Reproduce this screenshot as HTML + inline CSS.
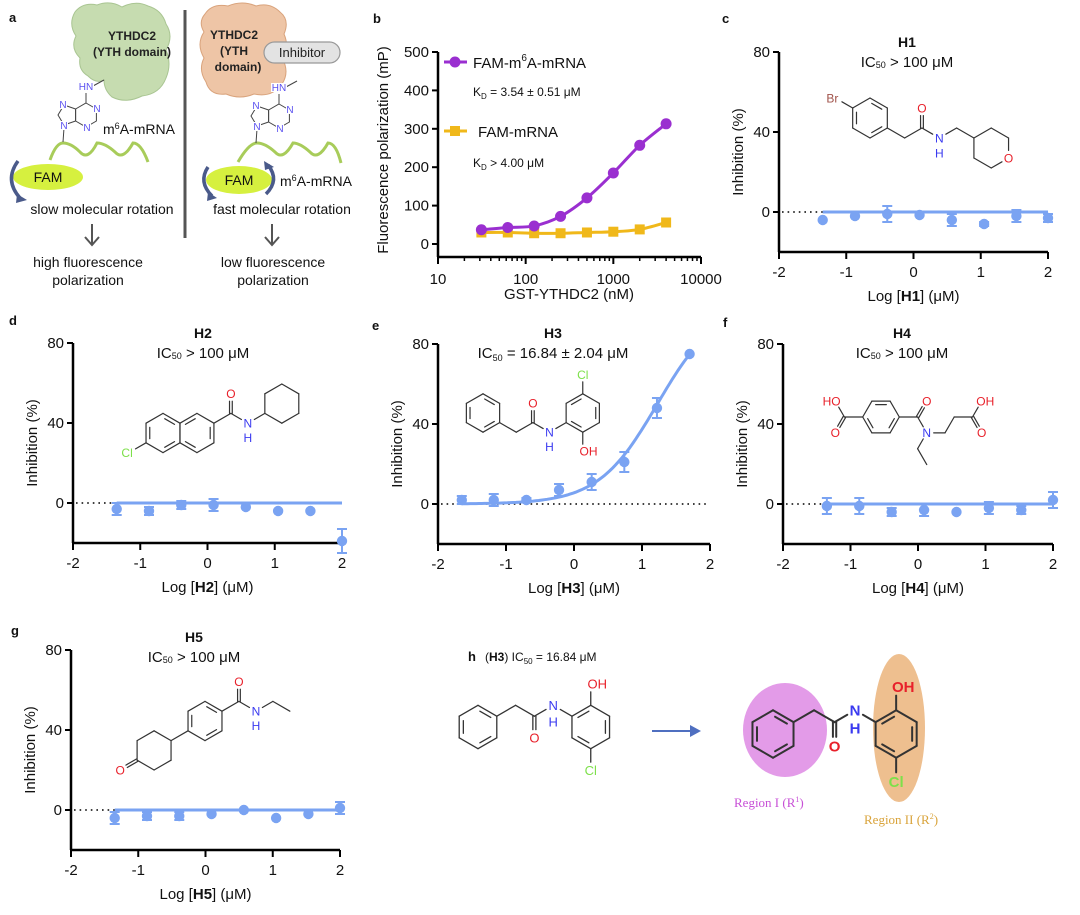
<!DOCTYPE html>
<html><head><meta charset="utf-8">
<style>
html,body{margin:0;padding:0;background:#fff;}
svg{display:block;font-family:"Liberation Sans",Arial,sans-serif;}
</style></head>
<body>
<svg id="fig" width="1080" height="915" viewBox="0 0 1080 915" xmlns="http://www.w3.org/2000/svg">
<!-- Panel letters -->
<g font-weight="bold" font-size="13" fill="#111">
<text x="9" y="22">a</text>
<text x="373" y="23">b</text>
<text x="722" y="23">c</text>
<text x="9" y="325">d</text>
<text x="372" y="330">e</text>
<text x="723" y="327">f</text>
<text x="11" y="635">g</text>
<text x="468" y="661">h</text>
</g>

<!-- Panel a schematic -->
<g id="panelA">
<path d="M75,12 Q83,2 97,5 Q110,0 122,7 Q136,0 148,6 Q162,10 166,24 Q174,36 166,50 Q172,64 166,78 Q160,94 142,96 Q126,104 112,97 Q104,90 104,80 Q96,84 88,76 Q78,70 80,58 Q70,48 76,36 Q68,24 75,12 Z" fill="#c6dcb0" stroke="#a9c592" stroke-width="1"/>
<text x="132" y="40" text-anchor="middle" font-size="12" font-weight="bold" fill="#222">YTHDC2</text>
<text x="132" y="56" text-anchor="middle" font-size="12" font-weight="bold" fill="#222">(YTH domain)</text>
<path d="M205,14 Q212,3 228,6 Q242,0 256,6 Q270,2 280,12 Q290,20 284,34 Q290,48 282,58 Q290,72 282,84 Q272,98 254,94 Q240,100 226,94 Q210,96 206,82 Q198,70 204,58 Q196,44 204,32 Q198,22 205,14 Z" fill="#eec5a6" stroke="#d9a37c" stroke-width="1"/>
<text x="234" y="39" text-anchor="middle" font-size="12" font-weight="bold" fill="#222">YTHDC2</text>
<text x="234" y="55" text-anchor="middle" font-size="12" font-weight="bold" fill="#222">(YTH</text>
<text x="238" y="71" text-anchor="middle" font-size="12" font-weight="bold" fill="#222">domain)</text>
<rect x="264" y="42" width="76" height="21" rx="10.5" fill="#e3e3e3" stroke="#999" stroke-width="1.2"/>
<text x="302" y="57" text-anchor="middle" font-size="13" fill="#222">Inhibitor</text>
<line x1="185" y1="10" x2="185" y2="238" stroke="#555" stroke-width="3"/>
<text x="103" y="134" font-size="14" fill="#111">m<tspan font-size="9" dy="-5">6</tspan><tspan dy="5">A-mRNA</tspan></text>
<text x="280" y="186" font-size="14" fill="#111">m<tspan font-size="9" dy="-5">6</tspan><tspan dy="5">A-mRNA</tspan></text>
<path d="M50,160 Q56,143 63,143 Q71,143 80,152 Q88,161 97,143 Q105,143 115,152 Q123,161 133,143 Q141,143 148,162" fill="none" stroke="#a8cc5a" stroke-width="3"/>
<path d="M238,162 Q249,143 257,143 Q265,143 275,152 Q283,161 293,143 Q300,143 310,152 Q318,161 328,143 Q336,143 341,163" fill="none" stroke="#a8cc5a" stroke-width="3"/>
<ellipse cx="48" cy="177" rx="35" ry="13" fill="#d6f03f"/>
<text x="48" y="182" text-anchor="middle" font-size="14" fill="#111">FAM</text>
<ellipse cx="239" cy="180" rx="33" ry="14" fill="#d6f03f"/>
<text x="239" y="185" text-anchor="middle" font-size="14" fill="#111">FAM</text>
<g fill="none" stroke="#4a5a8a" stroke-width="3.5">
<path d="M18,161 Q4,180 20,198"/>
<path d="M208,167 Q198,182 212,196"/>
<path d="M268,165 Q280,180 266,194"/>
</g>
<g fill="#4a5a8a">
<polygon points="17,194 27,200 16,203"/>
<polygon points="208,192 217,198 207,201"/>
<polygon points="264,161 274,167 265,170"/>
</g>
<text x="102" y="214" text-anchor="middle" font-size="14" fill="#111">slow molecular rotation</text>
<text x="282" y="214" text-anchor="middle" font-size="14" fill="#111">fast molecular rotation</text>
<g stroke="#555" stroke-width="2" fill="none">
<path d="M92,224 V245 M85,237 L92,245 L99,237"/>
<path d="M272,224 V245 M265,237 L272,245 L279,237"/>
</g>
<text x="88" y="267" text-anchor="middle" font-size="14" fill="#111">high fluorescence</text>
<text x="88" y="285" text-anchor="middle" font-size="14" fill="#111">polarization</text>
<text x="273" y="267" text-anchor="middle" font-size="14" fill="#111">low fluorescence</text>
<text x="273" y="285" text-anchor="middle" font-size="14" fill="#111">polarization</text>
</g>

<!-- Panel h static -->
<g>
<text x="485" y="661" font-size="12" fill="#111">(<tspan font-weight="bold">H3</tspan>) IC<tspan font-size="8" dy="3">50</tspan><tspan dy="-3"> = 16.84 μM</tspan></text>
<ellipse cx="785" cy="730" rx="42" ry="47" fill="#e39be8"/>
<ellipse cx="899" cy="728" rx="26" ry="74" fill="#eebf8f"/>
<line x1="652" y1="731" x2="694" y2="731" stroke="#4f6fc0" stroke-width="2"/>
<polygon points="690,725 701,731 690,737" fill="#4f6fc0"/>
<text x="734" y="807" font-size="13" fill="#c74fd6" font-family="Liberation Serif, serif">Region I (R<tspan font-size="8" dy="-5">1</tspan><tspan dy="5">)</tspan></text>
<text x="864" y="824" font-size="13" fill="#d9a33a" font-family="Liberation Serif, serif">Region II (R<tspan font-size="8" dy="-5">2</tspan><tspan dy="5">)</tspan></text>
</g>

<g id="dyn"></g>
</svg>

<script>
// ---------- Data: panel b ----------
const gstConc = [31.25, 62.5, 125, 250, 500, 1000, 2000, 4000];
const fpM6A = [37, 43, 47, 72, 120, 185, 257, 313];
const fpRNA = [30, 30, 28, 28, 30, 32, 38, 56];
const bYTicks = [0, 100, 200, 300, 400, 500];
const bXTicks = [10, 100, 1000, 10000];

// ---------- Data: inhibition panels ----------
const logConc = [-1.35, -0.87, -0.39, 0.09, 0.57, 1.05, 1.53, 2.0];
const logConcH3 = [-1.65, -1.18, -0.70, -0.22, 0.26, 0.74, 1.22, 1.70];
const h1Mean = [-4, -2, -1, -1.5, -4, -6, -2, -3];
const h1Err = [0, 0, 4, 0, 3, 1, 3, 2];
const h2Mean = [-3, -4, -1, -1, -2, -4, -4, -19];
const h2Err = [3, 2, 2, 3, 0, 0, 0, 6];
const h3Mean = [2, 2, 2, 7, 11, 21, 48, 75];
const h3Err = [2, 3, 1, 3, 4, 5, 5, 0];
const h4Mean = [-1, -1, -4, -3, -4, -2, -3, 2];
const h4Err = [4, 4, 2, 3, 0, 3, 2, 4];
const h5Mean = [-4, -3, -3, -2, 0, -4, -2, 1];
const h5Err = [3, 2, 2, 0, 0, 0, 0, 3];
const h3FitLogIC50 = [1.226];
const h3FitHill = [1.0];
const flatFitLevel = [0];
const inhYTicks = [80, 40, 0];
const inhXTicks = [-2, -1, 0, 1, 2];

const NS = 'http://www.w3.org/2000/svg';
const root = document.getElementById('dyn');
function mk(tag, attrs, parent, name) {
  const el = document.createElementNS(NS, tag);
  for (const k in attrs) el.setAttribute(k, attrs[k]);
  
  
  (parent || root).appendChild(el);
  return el;
}
function txt(x, y, s, attrs, parent, name) {
  const el = mk('text', Object.assign({x: x, y: y}, attrs), parent, name);
  el.textContent = s;
  return el;
}
function catmull(pts) {
  let d = 'M' + pts[0][0] + ',' + pts[0][1];
  for (let i = 0; i < pts.length - 1; i++) {
    const p0 = pts[Math.max(0, i - 1)], p1 = pts[i], p2 = pts[i + 1], p3 = pts[Math.min(pts.length - 1, i + 2)];
    const c1 = [p1[0] + (p2[0] - p0[0]) / 6, p1[1] + (p2[1] - p0[1]) / 6];
    const c2 = [p2[0] - (p3[0] - p1[0]) / 6, p2[1] - (p3[1] - p1[1]) / 6];
    d += ' C' + c1[0] + ',' + c1[1] + ' ' + c2[0] + ',' + c2[1] + ' ' + p2[0] + ',' + p2[1];
  }
  return d;
}

// ---------- Panel b ----------
(function () {
  const g = mk('g', {}, root, 'panel-b-chart');
  const axX = 438, axY = 257, y0 = 244, y500 = 52, xL = 438, xR = 701;
  const sx = v => xL + (Math.log10(v) - 1) / 3 * (xR - xL);
  const sy = v => y0 - v / 500 * (y0 - y500);
  mk('line', {x1: axX, y1: y500, x2: axX, y2: axY, stroke: '#000', 'stroke-width': 2.5}, g, 'b-y-axis');
  mk('line', {x1: axX, y1: axY, x2: xR, y2: axY, stroke: '#000', 'stroke-width': 2.5}, g, 'b-x-axis');
  bYTicks.forEach(t => {
    mk('line', {x1: axX - 6, y1: sy(t), x2: axX, y2: sy(t), stroke: '#000', 'stroke-width': 2}, g, 'b-y-tick');
    txt(axX - 9, sy(t) + 5, String(t), {'text-anchor': 'end', 'font-size': 15, fill: '#111'}, g, 'b-y-tick-label');
  });
  bXTicks.forEach(t => {
    mk('line', {x1: sx(t), y1: axY, x2: sx(t), y2: axY + 7, stroke: '#000', 'stroke-width': 2}, g, 'b-x-tick');
    txt(sx(t), axY + 27, String(t), {'text-anchor': 'middle', 'font-size': 15, fill: '#111'}, g, 'b-x-tick-label');
  });
  for (let dec = 10; dec < 10000; dec *= 10) for (let m = 2; m <= 9; m++) {
    mk('line', {x1: sx(dec * m), y1: axY, x2: sx(dec * m), y2: axY + 4, stroke: '#000', 'stroke-width': 1.5}, g, 'b-x-minor-tick');
  }
  const ty = mk('text', {x: 0, y: 0, transform: 'translate(388,150) rotate(-90)', 'text-anchor': 'middle', 'font-size': 15, fill: '#111'}, g, 'b-y-axis-title');
  ty.textContent = 'Fluorescence polarization (mP)';
  txt(569, 299, 'GST-YTHDC2 (nM)', {'text-anchor': 'middle', 'font-size': 15, fill: '#111'}, g, 'b-x-axis-title');
  // series
  const purple = '#9a2fd0', yellow = '#f0b81a';
  mk('path', {d: catmull(gstConc.map((c, i) => [sx(c), sy(fpRNA[i])])), fill: 'none', stroke: yellow, 'stroke-width': 3}, g, 'fam-mrna-fit-line');
  gstConc.forEach((c, i) => mk('rect', {x: sx(c) - 5, y: sy(fpRNA[i]) - 5, width: 10, height: 10, fill: yellow}, g, 'fam-mrna-point'));
  mk('path', {d: catmull(gstConc.map((c, i) => [sx(c), sy(fpM6A[i])])), fill: 'none', stroke: purple, 'stroke-width': 3}, g, 'fam-m6a-mrna-fit-line');
  gstConc.forEach((c, i) => mk('circle', {cx: sx(c), cy: sy(fpM6A[i]), r: 5.5, fill: purple}, g, 'fam-m6a-mrna-point'));
  // legend
  mk('line', {x1: 444, y1: 62, x2: 467, y2: 62, stroke: purple, 'stroke-width': 3}, g, 'legend-m6a-line');
  mk('circle', {cx: 455, cy: 62, r: 5.5, fill: purple}, g, 'legend-m6a-marker');
  const l1 = mk('text', {x: 473, y: 68, 'font-size': 15, fill: '#111'}, g, 'legend-m6a-label');
  l1.innerHTML = 'FAM-m<tspan font-size="10" dy="-7">6</tspan><tspan dy="7">A-mRNA</tspan>';
  const k1 = mk('text', {x: 473, y: 96, 'font-size': 12, fill: '#111'}, g, 'kd-m6a-label');
  k1.innerHTML = 'K<tspan font-size="8" dy="3">D</tspan><tspan dy="-3"> = 3.54 ± 0.51 μM</tspan>';
  mk('line', {x1: 444, y1: 131, x2: 467, y2: 131, stroke: yellow, 'stroke-width': 3}, g, 'legend-mrna-line');
  mk('rect', {x: 450, y: 126, width: 10, height: 10, fill: yellow}, g, 'legend-mrna-marker');
  txt(478, 137, 'FAM-mRNA', {'font-size': 15, fill: '#111'}, g, 'legend-mrna-label');
  const k2 = mk('text', {x: 473, y: 167, 'font-size': 12, fill: '#111'}, g, 'kd-mrna-label');
  k2.innerHTML = 'K<tspan font-size="8" dy="3">D</tspan><tspan dy="-3"> &gt; 4.00 μM</tspan>';
})();

// ---------- Inhibition panels ----------
function drawInhib(p) {
  const g = mk('g', {}, root, 'panel-' + p.id + '-chart');
  const sx = v => p.axX + (v + 2) / 4 * p.W;
  const sy = v => p.top + (80 - v) * 2;
  const bottom = sy(-20), blue = '#7aa3f2';
  mk('line', {x1: p.axX, y1: sy(80), x2: p.axX, y2: bottom, stroke: '#000', 'stroke-width': 2.5}, g, p.id + '-y-axis');
  mk('line', {x1: p.axX, y1: bottom, x2: p.axX + p.W, y2: bottom, stroke: '#000', 'stroke-width': 2.5}, g, p.id + '-x-axis');
  inhYTicks.forEach(t => {
    mk('line', {x1: p.axX - 6, y1: sy(t), x2: p.axX, y2: sy(t), stroke: '#000', 'stroke-width': 2}, g, p.id + '-y-tick');
    txt(p.axX - 9, sy(t) + 5, String(t), {'text-anchor': 'end', 'font-size': 15, fill: '#111'}, g, p.id + '-y-tick-label');
  });
  inhXTicks.forEach(t => {
    mk('line', {x1: sx(t), y1: bottom, x2: sx(t), y2: bottom + 7, stroke: '#000', 'stroke-width': 2}, g, p.id + '-x-tick');
    txt(sx(t), bottom + 25, String(t), {'text-anchor': 'middle', 'font-size': 15, fill: '#111'}, g, p.id + '-x-tick-label');
  });
  mk('line', {x1: p.axX + 3, y1: sy(0), x2: p.axX + p.W - 2, y2: sy(0), stroke: '#000', 'stroke-width': 1.6, 'stroke-dasharray': '1.6 4'}, g, p.id + '-zero-dotted-line');
  const ty = mk('text', {x: 0, y: 0, transform: 'translate(' + (p.axX - 36) + ',' + sy(30) + ') rotate(-90)', 'text-anchor': 'middle', 'font-size': 15, fill: '#111'}, g, p.id + '-y-axis-title');
  ty.textContent = 'Inhibition (%)';
  const tx = mk('text', {x: p.axX + p.W / 2, y: bottom + 49, 'text-anchor': 'middle', 'font-size': 15, fill: '#111'}, g, p.id + '-x-axis-title');
  tx.innerHTML = 'Log [<tspan font-weight="bold">' + p.cmp + '</tspan>] (μM)';
  txt(p.tx, p.ty, p.cmp, {'text-anchor': 'middle', 'font-size': 14, 'font-weight': 'bold', fill: '#111'}, g, p.id + '-compound-title');
  const ic = mk('text', {x: p.tx, y: p.ty + 20, 'text-anchor': 'middle', 'font-size': 15, fill: '#111'}, g, p.id + '-ic50-label');
  ic.innerHTML = p.ic;
  // fit
  let pts = [];
  const xs = p.x;
  for (let i = 0; i <= 80; i++) {
    const v = xs[0] + (xs[xs.length - 1] - xs[0]) * i / 80;
    const y = p.fit(v);
    pts.push(sx(v).toFixed(1) + ',' + sy(y).toFixed(1));
  }
  mk('polyline', {points: pts.join(' '), fill: 'none', stroke: blue, 'stroke-width': 3}, g, p.id + '-fit-curve');
  xs.forEach((v, i) => {
    const m = p.mean[i], e = p.err[i];
    if (e > 0) {
      mk('line', {x1: sx(v), y1: sy(m + e), x2: sx(v), y2: sy(m - e), stroke: blue, 'stroke-width': 2}, g, p.id + '-error-bar');
      mk('line', {x1: sx(v) - 5, y1: sy(m + e), x2: sx(v) + 5, y2: sy(m + e), stroke: blue, 'stroke-width': 2}, g, p.id + '-error-cap');
      mk('line', {x1: sx(v) - 5, y1: sy(m - e), x2: sx(v) + 5, y2: sy(m - e), stroke: blue, 'stroke-width': 2}, g, p.id + '-error-cap');
    }
    mk('circle', {cx: sx(v), cy: sy(m), r: 5.2, fill: blue}, g, p.id + '-data-point');
  });
}
const icGt = 'IC<tspan font-size="9" dy="1">50</tspan><tspan dy="-1"> &gt; 100 μM</tspan>';
drawInhib({id: 'c', cmp: 'H1', axX: 779, top: 52, W: 269, tx: 907, ty: 47, ic: icGt, x: logConc, mean: h1Mean, err: h1Err, fit: v => flatFitLevel[0]});
drawInhib({id: 'd', cmp: 'H2', axX: 73, top: 343, W: 269, tx: 203, ty: 338, ic: icGt, x: logConc, mean: h2Mean, err: h2Err, fit: v => flatFitLevel[0]});
drawInhib({id: 'e', cmp: 'H3', axX: 438, top: 344, W: 272, tx: 553, ty: 338, ic: 'IC<tspan font-size="9" dy="3">50</tspan><tspan dy="-3"> = 16.84 ± 2.04 μM</tspan>', x: logConcH3, mean: h3Mean, err: h3Err, fit: v => 100 / (1 + Math.pow(10, (h3FitLogIC50[0] - v) * h3FitHill[0]))});
drawInhib({id: 'f', cmp: 'H4', axX: 783, top: 344, W: 270, tx: 902, ty: 338, ic: icGt, x: logConc, mean: h4Mean, err: h4Err, fit: v => flatFitLevel[0]});
drawInhib({id: 'g', cmp: 'H5', axX: 71, top: 650, W: 269, tx: 194, ty: 642, ic: icGt, x: logConc, mean: h5Mean, err: h5Err, fit: v => flatFitLevel[0]});

// ---------- Chemical structures ----------
const RED = '#e8202a', BLUE = '#3a3af0', GREEN = '#7de04a', BROWN = '#a0524a';
function hexV(cx, cy, pointy) {
  const out = [];
  for (let i = 0; i < 6; i++) {
    const a = (pointy ? -90 : 0) + 60 * i;
    out.push([cx + Math.cos(a * Math.PI / 180), cy + Math.sin(a * Math.PI / 180)]);
  }
  return out;
}
function drawMol(m, ox, oy, L, flip, sw, fs, name, bold) {
  const g = mk('g', {}, root, name);
  const P = (x, y) => [ox + x * L, oy + (flip ? -y : y) * L];
  const labs = m.labels || [];
  const isLab = (x, y) => labs.some(l => Math.abs(l[0] - x) < 0.01 && Math.abs(l[1] - y) < 0.01);
  const seg = (x1, y1, x2, y2, off, shrink) => {
    let a = [x1, y1], b = [x2, y2];
    const dx = x2 - x1, dy = y2 - y1, len = Math.hypot(dx, dy), ux = dx / len, uy = dy / len;
    const s1 = isLab(x1, y1) ? 0.38 : 0, s2 = isLab(x2, y2) ? 0.38 : 0;
    a = [x1 + ux * (s1 + shrink), y1 + uy * (s1 + shrink)];
    b = [x2 - ux * (s2 + shrink), y2 - uy * (s2 + shrink)];
    const nx = -uy * off, ny = ux * off;
    const A = P(a[0] + nx, a[1] + ny), B = P(b[0] + nx, b[1] + ny);
    mk('line', {x1: A[0], y1: A[1], x2: B[0], y2: B[1], stroke: '#333', 'stroke-width': sw, 'stroke-linecap': 'round'}, g, 'bond');
  };
  (m.rings || []).forEach(r => {
    const v = hexV(r[0], r[1], r[2]);
    for (let i = 0; i < 6; i++) {
      const a = v[i], b = v[(i + 1) % 6];
      seg(a[0], a[1], b[0], b[1], 0, 0);
      if (r[3].indexOf(i) >= 0) {
        const ia = [r[0] + (a[0] - r[0]) * 0.78, r[1] + (a[1] - r[1]) * 0.78];
        const ib = [r[0] + (b[0] - r[0]) * 0.78, r[1] + (b[1] - r[1]) * 0.78];
        seg(ia[0], ia[1], ib[0], ib[1], 0, 0.1);
      }
    }
  });
  (m.bonds || []).forEach(b => {
    if (b[4] === 2) { seg(b[0], b[1], b[2], b[3], 0.07, 0); seg(b[0], b[1], b[2], b[3], -0.07, 0); }
    else seg(b[0], b[1], b[2], b[3], 0, 0);
  });
  labs.forEach(l => {
    const p = P(l[0] + (l[4] || 0), l[1]);
    const t = txt(p[0], p[1] + fs * 0.36, l[2], {'text-anchor': 'middle', 'font-size': fs, fill: l[3]}, g, 'atom-label');
    if (bold) t.setAttribute('font-weight', 'bold');
    if (l[5]) { const q = P(l[0], l[1] + (flip ? -0.75 : 0.75)); txt(q[0], q[1] + fs * 0.36, 'H', {'text-anchor': 'middle', 'font-size': fs, fill: BLUE, 'font-weight': bold ? 'bold' : 'normal'}, g, 'atom-label-h'); }
  });
}
const molH3 = {
  rings: [[0, 0, true, [0, 2, 4]], [5.196, 0, true, [1, 3, 5]]],
  bonds: [[0.866, 0.5, 1.732, 1], [1.732, 1, 2.598, 0.5], [2.598, 0.5, 2.598, -0.5, 2], [2.598, 0.5, 3.464, 1], [3.464, 1, 4.33, 0.5], [5.196, -1, 5.196, -2], [5.196, 1, 5.196, 2]],
  labels: [[2.598, -0.5, 'O', RED], [3.464, 1, 'N', BLUE, 0, true], [5.196, -2, 'Cl', GREEN], [5.196, 2, 'OH', RED, 0.3]]
};
const molH1 = {
  rings: [[0, 0, true, [0, 2, 4]], [6.062, 1.5, true, []]],
  bonds: [[-0.866, -0.5, -1.732, -1], [0.866, 0.5, 1.732, 1], [1.732, 1, 2.598, 0.5], [2.598, 0.5, 2.598, -0.5, 2], [2.598, 0.5, 3.464, 1], [3.464, 1, 4.33, 0.5], [4.33, 0.5, 5.196, 1]],
  labels: [[-1.732, -1, 'Br', BROWN, -0.15], [2.598, -0.5, 'O', RED], [3.464, 1, 'N', BLUE, 0, true], [6.928, 2, 'O', RED]]
};
const molH2 = {
  rings: [[0, 0, true, [0, 2, 4]], [1.732, 0, true, [1, 3, 5]], [6.062, -1.5, true, []]],
  bonds: [[-0.866, 0.5, -1.732, 1], [2.598, -0.5, 3.464, -1], [3.464, -1, 3.464, -2, 2], [3.464, -1, 4.33, -0.5], [4.33, -0.5, 5.196, -1]],
  labels: [[-1.732, 1, 'Cl', GREEN, -0.1], [3.464, -2, 'O', RED], [4.33, -0.5, 'N', BLUE, 0, true]]
};
const molH4 = {
  rings: [[0, 0, false, [0, 2, 4]]],
  bonds: [[-1, 0, -2, 0], [-2, 0, -2.5, -0.866], [-2, 0, -2.5, 0.866, 2], [1, 0, 2, 0], [2, 0, 2.5, -0.866, 2], [2, 0, 2.5, 0.866], [2.5, 0.866, 2, 1.732], [2, 1.732, 2.5, 2.598], [2.5, 0.866, 3.5, 0.866], [3.5, 0.866, 4, 0], [4, 0, 5, 0], [5, 0, 5.5, -0.866], [5, 0, 5.5, 0.866, 2]],
  labels: [[-2.5, -0.866, 'HO', RED, -0.2], [-2.5, 0.866, 'O', RED], [2.5, -0.866, 'O', RED], [2.5, 0.866, 'N', BLUE], [5.5, -0.866, 'OH', RED, 0.2], [5.5, 0.866, 'O', RED]]
};
const molH5 = {
  rings: [[0, 0, true, [0, 2, 4]], [-2.598, 1.5, true, []]],
  bonds: [[-0.866, 0.5, -1.732, 1], [-3.464, 2, -4.33, 2.5, 2], [0.866, -0.5, 1.732, -1], [1.732, -1, 1.732, -2, 2], [1.732, -1, 2.598, -0.5], [2.598, -0.5, 3.464, -1], [3.464, -1, 4.33, -0.5]],
  labels: [[-4.33, 2.5, 'O', RED], [1.732, -2, 'O', RED], [2.598, -0.5, 'N', BLUE, 0, true]]
};
drawMol(molH1, 870, 118, 20, false, 1.2, 12, 'h1-structure');
drawMol(molH2, 163, 433, 19.6, false, 1.2, 12, 'h2-structure');
drawMol(molH3, 483, 413, 19.2, false, 1.2, 12, 'h3-structure');
drawMol(molH4, 881, 417, 18.3, false, 1.2, 12, 'h4-structure');
drawMol(molH5, 205, 721, 19.6, false, 1.2, 12, 'h5-structure');
drawMol(molH3, 478, 727, 21.7, true, 1.3, 13, 'h3-structure-h-left');
drawMol(molH3, 773, 734, 23.7, true, 2, 15, 'h3-structure-h-right', true);

// ---------- Adenine in panel a ----------
function adenine(dx, dy, name) {
  const g = mk('g', {}, root, name);
  const A = [[86, 103], [96.4, 109], [96.4, 121], [86, 127], [75.6, 121], [75.6, 109]];
  const F = [[75.6, 109], [64, 105], [58, 115], [64, 125], [75.6, 121]];
  const poly = (pts, nm) => mk('polygon', {points: pts.map(p => (p[0] + dx) + ',' + (p[1] + dy)).join(' '), fill: 'none', stroke: '#444', 'stroke-width': 1}, g, nm);
  poly(A, 'adenine-six-ring');
  poly(F, 'adenine-five-ring');
  mk('line', {x1: 86 + dx, y1: 103 + dy, x2: 86 + dx, y2: 93 + dy, stroke: '#444', 'stroke-width': 1}, g, 'adenine-n6-bond');
  mk('line', {x1: 93 + dx, y1: 86 + dy, x2: 104 + dx, y2: 80 + dy, stroke: '#444', 'stroke-width': 1}, g, 'adenine-methyl-bond');
  mk('line', {x1: 64 + dx, y1: 128 + dy, x2: 63 + dx, y2: 142 + dy, stroke: '#444', 'stroke-width': 1}, g, 'adenine-linker');
  [[86, 90, 'HN'], [97, 112, 'N'], [87, 131, 'N'], [63, 108, 'N'], [64, 129, 'N']].forEach(l => {
    mk('rect', {x: l[0] + dx - (l[2].length * 4), y: l[1] + dy - 8, width: l[2].length * 8, height: 9, fill: '#fff'}, g, 'adenine-label-bg');
    txt(l[0] + dx, l[1] + dy, l[2], {'text-anchor': 'middle', 'font-size': 10, fill: '#5a50f0'}, g, 'adenine-atom-label');
  });
}
adenine(0, 0, 'adenine-left');
adenine(193, 1, 'adenine-right');
</script>
</body></html>
